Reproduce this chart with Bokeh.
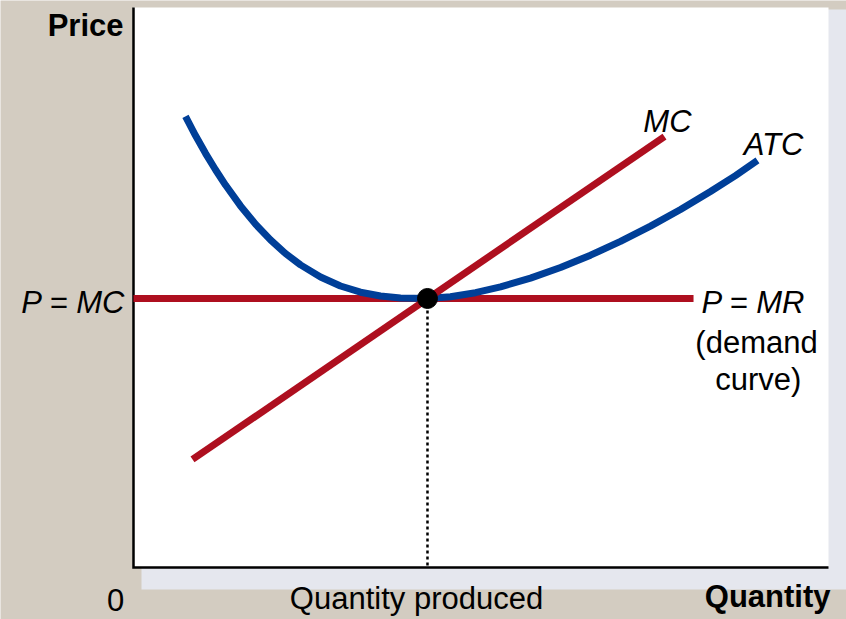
from bokeh.plotting import figure
from bokeh.models import Label, BoxAnnotation, Range1d
from bokeh.embed import file_html
from bokeh.resources import INLINE

# ---- data (quantity and price in 0..100 units) ----
mc_q = [8.49, 76.40]
mc_p = [19.29, 76.96]

mr_q = [0.0, 80.58]
mr_p = [48.04, 48.04]

atc_q = [7.48, 8.92, 10.36, 11.80, 13.24, 15.40, 17.55, 19.71, 21.87, 24.03,
         26.91, 29.78, 32.66, 35.54, 38.42, 42.30, 45.61, 49.21, 52.81, 57.12,
         61.44, 65.76, 70.07, 74.39, 78.71, 83.02, 86.62, 89.78]
atc_p = [80.54, 77.14, 73.96, 71.02, 68.29, 64.57, 61.32, 58.50, 56.07, 54.04,
         51.88, 50.27, 49.16, 48.48, 48.14, 48.04, 48.34, 49.07, 50.11, 51.68,
         53.57, 55.77, 58.23, 60.96, 63.93, 67.14, 69.98, 72.68]

q_star = [42.30]
p_star = [48.04]

BEIGE = "#d3ccc1"
SHADOW = "#e5e7ee"
RED = "#ae0f1f"
BLUE = "#003f98"
FONT = "Liberation Sans"

# frame fills the whole canvas; axis box is 0..100 in both directions
p = figure(width=846, height=619, output_backend="svg", toolbar_location=None,
           x_range=Range1d(-19.137, 102.59), y_range=Range1d(-9.286, 101.25),
           x_axis_location=None, y_axis_location=None,
           min_border=0)
p.border_fill_color = BEIGE
p.background_fill_color = BEIGE
p.outline_line_color = None
p.grid.visible = False

# drop shadow and white panel
p.add_layout(BoxAnnotation(left=1.15, right=104, bottom=-3.93, top=99.64,
                           fill_color=SHADOW, fill_alpha=1, line_color=None,
                           level="underlay"))
p.add_layout(BoxAnnotation(left=0, right=100, bottom=0, top=100,
                           fill_color="white", fill_alpha=1, line_color=None,
                           level="underlay"))

# axis lines
p.line([0, 0, 100], [100, 0, 0], line_color="black", line_width=2.5,
       line_join="miter")

# curves
p.line(mr_q, mr_p, line_color=RED, line_width=7)
p.line(atc_q, atc_p, line_color=BLUE, line_width=7, line_join="round")
p.line(mc_q, mc_p, line_color=RED, line_width=7)
p.segment(x0=q_star, y0=p_star, x1=q_star, y1=[0], line_color="black",
          line_width=2.5, line_dash="3 3")
p.scatter(q_star, p_star, size=20, color="black")

DY = 1.96  # baseline correction

def lab(x, y, t, align="center", style="normal"):
    p.add_layout(Label(x=x, y=y + DY, text=t, text_align=align,
                       text_baseline="alphabetic", text_font=FONT,
                       text_font_size="31px", text_font_style=style,
                       text_color="black"))

lab(-1.44, 94.82, "Price", align="right", style="bold")
lab(-1.15, 45.36, "P = MC", align="right", style="italic")
lab(-2.59, -7.68, "0")
lab(40.72, -7.5, "Quantity produced")
lab(100.29, -7.14, "Quantity", align="right", style="bold")
lab(76.83, 77.68, "MC", style="italic")
lab(92.09, 73.57, "ATC", style="italic")
lab(89.21, 45.36, "P = MR", style="italic")
lab(89.64, 38.21, "(demand")
lab(89.90, 31.61, "curve)")

open("out.html", "w").write(file_html(p, INLINE))
